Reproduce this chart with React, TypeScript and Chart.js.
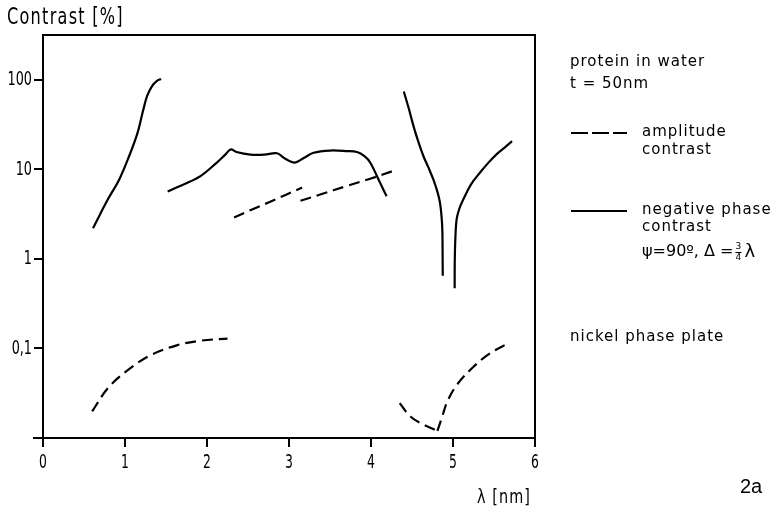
import React, { useEffect, useRef } from "react";
import { Chart, registerables } from "chart.js";

Chart.register(...registerables);

// ---- data (λ in nm, contrast in %) ----
const phaseLeftX = [0.61, 0.7, 0.79, 0.93, 1.05, 1.15, 1.22, 1.27, 1.33, 1.39, 1.44];
const phaseLeftY = [2.2, 3.2, 4.6, 7.7, 14, 25, 45, 66, 85, 97, 102];

const phaseMidX = [1.52, 1.72, 1.92, 2.12, 2.22, 2.29, 2.36, 2.53, 2.7, 2.855, 2.95, 3.07, 3.18, 3.3, 3.5, 3.7, 3.83, 3.92, 3.99, 4.11, 4.19];
const phaseMidY = [5.65, 6.8, 8.4, 11.9, 14.5, 16.7, 15.6, 14.6, 14.6, 15.1, 13.2, 11.9, 13.4, 15.3, 16.2, 16.0, 15.6, 14.0, 11.9, 7.1, 5.0];

const phaseDipLeftX = [4.4, 4.46, 4.52, 4.58, 4.64, 4.7, 4.76, 4.81, 4.84, 4.86, 4.87, 4.873, 4.875];
const phaseDipLeftY = [74, 48, 30, 20, 14, 10.5, 7.7, 5.6, 4.3, 3.0, 2.1, 1.2, 0.65];

const phaseDipRightX = [5.02, 5.022, 5.03, 5.045, 5.08, 5.125, 5.22, 5.33, 5.43, 5.53, 5.63, 5.72];
const phaseDipRightY = [0.47, 1.0, 1.8, 2.8, 3.7, 4.6, 6.8, 9.2, 11.8, 14.7, 17.5, 20.6];

const ampUpperAX = [2.33, 2.55, 2.75, 2.95, 3.16];
const ampUpperAY = [2.9, 3.56, 4.27, 5.14, 6.25];

const ampUpperBX = [3.14, 3.4, 3.7, 4.0, 4.27];
const ampUpperBY = [4.45, 5.3, 6.5, 7.9, 9.6];

const nickelLeftX = [0.6, 0.79, 1.03, 1.31, 1.64, 1.92, 2.25];
const nickelLeftY = [0.0198, 0.036, 0.057, 0.084, 0.109, 0.122, 0.129];

const nickelDipDownX = [4.35, 4.48, 4.64, 4.81];
const nickelDipDownY = [0.0245, 0.0174, 0.0141, 0.012];

const nickelDipUpX = [4.81, 4.87, 4.93, 5.045, 5.25, 5.45, 5.67];
const nickelDipUpY = [0.012, 0.0175, 0.0255, 0.039, 0.0625, 0.088, 0.114];

const xTicks = [0, 1, 2, 3, 4, 5, 6];
const xTickLabels = ["0", "1", "2", "3", "4", "5", "6"];
const yTicks = [0.1, 1, 10, 100];
const yTickLabels = ["0,1", "1", "10", "100"];

const BASE_FONT = "'DejaVu Sans', sans-serif";

const pts = (xs: number[], ys: number[]) => xs.map((x, i) => ({ x, y: ys[i] }));

const solid = (xs: number[], ys: number[]) => ({
  data: pts(xs, ys),
  borderColor: "#000",
  borderWidth: 2.2,
  pointRadius: 0,
  tension: 0.35,
  fill: false,
});
const dashed = (xs: number[], ys: number[]) => ({
  ...solid(xs, ys),
  borderDash: [11, 6],
});

function narrowText(
  ctx: CanvasRenderingContext2D,
  text: string,
  x: number,
  y: number,
  size: number,
  sx: number,
  align: CanvasTextAlign,
  spacing: number
) {
  ctx.save();
  ctx.translate(x, y);
  ctx.scale(sx, 1);
  ctx.font = `${size}px ${BASE_FONT}`;
  (ctx as any).letterSpacing = `${spacing}px`;
  ctx.textAlign = align;
  ctx.textBaseline = "middle";
  ctx.fillText(text, 0, 0);
  ctx.restore();
}

const decorPlugin = {
  id: "decor",
  afterDraw(chart: any) {
    const ctx = chart.ctx as CanvasRenderingContext2D;
    const a = chart.chartArea;
    const xs = chart.scales.x;
    const ys = chart.scales.y;
    ctx.save();
    ctx.strokeStyle = "#000";
    ctx.fillStyle = "#000";
    ctx.lineWidth = 2;
    ctx.beginPath();
    ctx.moveTo(a.left, a.top);
    ctx.lineTo(a.right, a.top);
    ctx.lineTo(a.right, a.bottom);
    ctx.moveTo(a.left - 10, a.bottom);
    ctx.lineTo(a.left, a.bottom);
    ctx.stroke();

    // tick labels
    xTicks.forEach((v, i) => {
      narrowText(ctx, xTickLabels[i], xs.getPixelForValue(v), 463, 20, 0.62, "center", 0);
    });
    yTicks.forEach((v, i) => {
      narrowText(ctx, yTickLabels[i], 32, ys.getPixelForValue(v), 20, 0.64, "right", 0);
    });

    // titles
    narrowText(ctx, "Contrast [%]", 7, 18, 23, 0.7, "left", 1.8);
    narrowText(ctx, "λ [nm]", 477, 498, 20, 0.72, "left", 1.5);

    ctx.textBaseline = "middle";
    ctx.textAlign = "left";
    (ctx as any).letterSpacing = "0px";
    ctx.font = `20px 'Liberation Sans', Arial, sans-serif`;
    ctx.fillText("2a", 740, 487);

    // legend
    (ctx as any).letterSpacing = "1px";
    ctx.font = `15px ${BASE_FONT}`;
    ctx.fillText("protein in water", 570, 62);
    ctx.fillText("t = 50nm", 570, 84);

    ctx.beginPath();
    ctx.setLineDash([17, 4]);
    ctx.moveTo(571, 133);
    ctx.lineTo(627, 133);
    ctx.stroke();
    ctx.setLineDash([]);
    ctx.fillText("amplitude", 642, 132);
    ctx.fillText("contrast", 642, 150);

    ctx.beginPath();
    ctx.moveTo(571, 211);
    ctx.lineTo(627, 211);
    ctx.stroke();
    ctx.fillText("negative phase", 642, 210);
    ctx.fillText("contrast", 642, 227);

    (ctx as any).letterSpacing = "0px";
    ctx.font = `16px ${BASE_FONT}`;
    const base = "ψ=90º, Δ =";
    ctx.fillText(base, 642, 252);
    const w = ctx.measureText(base).width;
    ctx.font = `9px ${BASE_FONT}`;
    ctx.textAlign = "center";
    ctx.fillText("3", 642 + w + 5, 247);
    ctx.fillText("4", 642 + w + 5, 258);
    ctx.beginPath();
    ctx.lineWidth = 1;
    ctx.moveTo(642 + w + 2, 252.5);
    ctx.lineTo(642 + w + 8, 252.5);
    ctx.stroke();
    ctx.textAlign = "left";
    ctx.font = `18px ${BASE_FONT}`;
    ctx.fillText("λ", 642 + w + 11, 252);

    (ctx as any).letterSpacing = "1px";
    ctx.font = `15px ${BASE_FONT}`;
    ctx.fillText("nickel phase plate", 570, 337);
    ctx.restore();
  },
};

export default function App() {
  const ref = useRef<HTMLCanvasElement | null>(null);
  useEffect(() => {
    if (!ref.current) return;
    const chart = new Chart(ref.current, {
      type: "line",
      data: {
        datasets: [
          solid(phaseLeftX, phaseLeftY),
          solid(phaseMidX, phaseMidY),
          solid(phaseDipLeftX, phaseDipLeftY),
          solid(phaseDipRightX, phaseDipRightY),
          dashed(ampUpperAX, ampUpperAY),
          dashed(ampUpperBX, ampUpperBY),
          dashed(nickelLeftX, nickelLeftY),
          dashed(nickelDipDownX, nickelDipDownY),
          dashed(nickelDipUpX, nickelDipUpY),
        ] as any,
      },
      plugins: [decorPlugin],
      options: {
        responsive: false,
        animation: false,
        layout: { padding: { left: 0, top: 35, right: 244, bottom: 0 } },
        plugins: { legend: { display: false }, tooltip: { enabled: false } },
        scales: {
          x: {
            type: "linear",
            min: 0,
            max: 6,
            afterBuildTicks: (s: any) => {
              s.ticks = xTicks.map((v) => ({ value: v }));
            },
            afterFit: (s: any) => {
              s.height = 84;
            },
            ticks: { display: false },
            grid: { drawOnChartArea: false, drawTicks: true, tickLength: 9, color: "#000", lineWidth: 2 },
            border: { display: true, color: "#000", width: 2 },
          },
          y: {
            type: "logarithmic",
            min: 0.01,
            max: 316,
            afterBuildTicks: (s: any) => {
              s.ticks = yTicks.map((v) => ({ value: v }));
            },
            afterFit: (s: any) => {
              s.width = 43;
            },
            ticks: { display: false },
            grid: { drawOnChartArea: false, drawTicks: true, tickLength: 9, color: "#000", lineWidth: 2 },
            border: { display: true, color: "#000", width: 2 },
          },
        },
      } as any,
    });
    return () => chart.destroy();
  }, []);
  return (
    <div style={{ position: "absolute", left: 0, top: 0, width: 779, height: 522, background: "#fff" }}>
      <canvas ref={ref} width={779} height={522} />
    </div>
  );
}
